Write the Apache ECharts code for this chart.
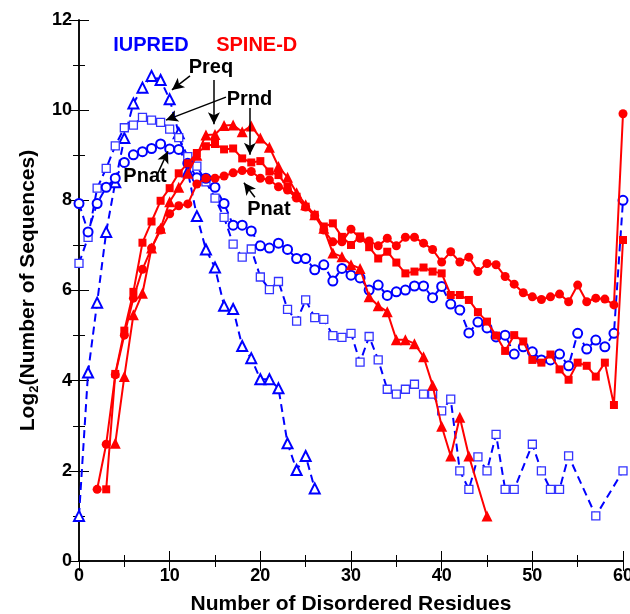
<!DOCTYPE html>
<html>
<head>
<meta charset="utf-8">
<script src="https://cdn.jsdelivr.net/npm/echarts@6/dist/echarts.min.js"></script>
<style>
  html, body { margin: 0; padding: 0; background: #fff; }
  #chart { width: 630px; height: 614px; }
</style>
</head>
<body>
<div id="chart"></div>
<script>
// x positions (number of disordered residues) and log2 counts per series
const iupredPreqX = [0, 1, 2, 3, 4, 5, 6, 7, 8, 9, 10, 11, 12, 13, 14, 15, 16, 17, 18, 19, 20, 21, 22, 23, 24, 25, 26]
const iupredPreqY = [1.0, 4.18, 5.73, 7.3, 8.4, 9.38, 10.15, 10.5, 10.76, 10.67, 10.24, 9.49, 8.64, 7.65, 6.91, 6.51, 5.66, 5.59, 4.77, 4.5, 4.03, 4.03, 3.83, 2.61, 2.02, 2.33, 1.61]

const iupredPrndX = [0, 1, 2, 3, 4, 5, 6, 7, 8, 9, 10, 11, 12, 13, 14, 15, 16, 17, 18, 19, 20, 21, 22, 23, 24, 25, 26, 27, 28, 29, 30, 31, 32, 33, 34, 35, 36, 37, 38, 39, 40, 41, 42, 43, 44, 45, 46, 47, 48, 50, 51, 52, 53, 54, 57, 60]
const iupredPrndY = [6.6, 7.18, 8.27, 8.71, 9.21, 9.61, 9.67, 9.84, 9.78, 9.73, 9.58, 9.39, 8.97, 8.76, 8.41, 8.05, 7.62, 7.03, 6.74, 6.92, 6.3, 6.02, 6.2, 5.58, 5.32, 5.79, 5.4, 5.36, 5.0, 4.96, 5.05, 4.41, 4.98, 4.46, 3.81, 3.7, 3.81, 3.92, 3.7, 3.7, 3.33, 3.59, 2.0, 1.59, 2.31, 2.0, 2.81, 1.59, 1.59, 2.59, 2.0, 1.59, 1.59, 2.33, 1.0, 2.0]

const iupredPnatX = [0, 1, 2, 3, 4, 5, 6, 7, 8, 9, 10, 11, 12, 13, 14, 15, 16, 17, 18, 19, 20, 21, 22, 23, 24, 25, 26, 27, 28, 29, 30, 31, 32, 33, 34, 35, 36, 37, 38, 39, 40, 41, 42, 43, 44, 45, 46, 47, 48, 49, 50, 51, 52, 53, 54, 55, 56, 57, 58, 59, 60]
const iupredPnatY = [7.93, 7.3, 7.93, 8.29, 8.49, 8.84, 9.01, 9.08, 9.15, 9.25, 9.14, 9.13, 8.82, 8.5, 8.49, 8.29, 7.93, 7.45, 7.45, 7.32, 6.99, 6.94, 7.05, 6.91, 6.71, 6.71, 6.46, 6.57, 6.21, 6.49, 6.34, 6.28, 6.01, 6.12, 5.89, 5.97, 6.01, 6.1, 6.1, 5.84, 6.09, 5.7, 5.57, 5.06, 5.3, 5.17, 4.97, 5.01, 4.59, 4.75, 4.64, 4.46, 4.46, 4.59, 4.33, 5.05, 4.7, 4.9, 4.75, 5.05, 8.0]

const spinePreqX = [4, 5, 6, 7, 8, 9, 10, 11, 12, 13, 14, 15, 16, 17, 18, 19, 20, 21, 22, 23, 24, 25, 26, 27, 28, 29, 30, 31, 32, 33, 34, 35, 36, 37, 38, 39, 40, 41, 42, 43, 45]
const spinePreqY = [2.61, 4.09, 5.46, 5.94, 6.94, 7.38, 7.97, 8.29, 8.6, 9.0, 9.45, 9.46, 9.66, 9.67, 9.52, 9.65, 9.38, 9.18, 8.75, 8.51, 8.17, 7.9, 7.68, 7.38, 6.83, 6.75, 6.57, 6.49, 5.86, 5.66, 5.53, 4.91, 4.91, 4.82, 4.53, 3.9, 2.99, 2.33, 3.19, 2.33, 1.0]

const spinePrndX = [3, 4, 5, 6, 7, 8, 9, 10, 11, 12, 13, 14, 15, 16, 17, 18, 19, 20, 21, 22, 23, 24, 25, 26, 27, 28, 29, 30, 31, 32, 33, 34, 35, 36, 37, 38, 39, 40, 41, 42, 43, 44, 45, 46, 47, 48, 49, 50, 51, 52, 53, 54, 55, 56, 57, 58, 59, 60]
const spinePrndY = [1.59, 4.15, 5.11, 5.97, 7.06, 7.53, 7.99, 8.27, 8.6, 8.82, 9.05, 9.2, 9.25, 9.13, 9.15, 8.93, 8.84, 8.87, 8.64, 8.56, 8.3, 8.08, 7.86, 7.68, 7.42, 7.49, 7.19, 7.01, 7.2, 6.96, 6.71, 6.86, 6.62, 6.38, 6.42, 6.51, 6.42, 6.38, 5.9, 5.9, 5.79, 5.52, 5.31, 5.0, 4.66, 5.01, 4.87, 4.46, 4.4, 4.58, 4.25, 4.02, 4.4, 4.33, 4.09, 4.4, 3.46, 7.12]

const spinePnatX = [2, 3, 4, 5, 6, 7, 8, 9, 10, 11, 12, 13, 14, 15, 16, 17, 18, 19, 20, 21, 22, 23, 24, 25, 26, 27, 28, 29, 30, 31, 32, 33, 34, 35, 36, 37, 38, 39, 40, 41, 42, 43, 44, 45, 46, 47, 48, 49, 50, 51, 52, 53, 54, 55, 56, 57, 58, 59, 60]
const spinePnatY = [1.59, 2.59, 4.13, 5.01, 5.83, 6.47, 6.94, 7.34, 7.7, 7.88, 7.92, 8.36, 8.49, 8.49, 8.54, 8.61, 8.66, 8.64, 8.49, 8.45, 8.3, 8.23, 8.05, 7.85, 7.66, 7.34, 7.08, 7.08, 7.36, 7.16, 7.1, 6.99, 7.16, 6.99, 7.18, 7.18, 7.05, 6.91, 6.63, 6.86, 6.63, 6.74, 6.42, 6.6, 6.57, 6.31, 6.14, 5.95, 5.86, 5.8, 5.86, 5.92, 5.75, 6.12, 5.75, 5.83, 5.81, 5.68, 9.92]

// annotation labels [text, x, y] and arrows [x1, y1, x2, y2] in data units
const groupLabels = [['IUPRED', 7.94, 11.44, '#0000ff'], ['SPINE-D', 19.6, 11.44, '#ff0000']]
const noteLabels = [['Preq', 14.55, 10.94], ['Prnd', 18.8, 10.23], ['Pnat', 7.28, 8.54], ['Pnat', 20.95, 7.79]]
const noteArrows = [
  [12.24, 10.76, 10.25, 10.45],
  [14.88, 10.67, 14.88, 9.69],
  [16.21, 10.29, 9.59, 9.78],
  [18.85, 10.05, 18.85, 9.01],
  [8.6, 8.56, 9.81, 9.09],
  [19.4, 8.07, 18.19, 8.39]
]

const FONT = 'Liberation Sans, Arial, Helvetica, sans-serif'
const zip = (xs, ys) => xs.map((x, i) => [x, ys[i]])

const chart = echarts.init(document.getElementById('chart'))

function blueSeries(name, xs, ys, symbol, size, width, color) {
  return {
    name: name,
    type: 'line',
    data: zip(xs, ys),
    symbol: symbol,
    symbolSize: size,
    showAllSymbol: true,
    z: 2,
    lineStyle: { color: '#0000ff', width: 2, type: [8, 5] },
    itemStyle: { color: '#fff', borderColor: color, borderWidth: width },
    animation: false
  }
}

function redSeries(name, xs, ys, symbol, size) {
  return {
    name: name,
    type: 'line',
    data: zip(xs, ys),
    symbol: symbol,
    symbolSize: size,
    showAllSymbol: true,
    z: 3,
    lineStyle: { color: '#ff0000', width: 2 },
    itemStyle: { color: '#ff0000', borderWidth: 0 },
    animation: false
  }
}

const axisLine = { show: true, lineStyle: { color: '#000', width: 1.5 } }

chart.setOption({
  backgroundColor: '#fff',
  animation: false,
  grid: { left: 79, right: 7, top: 20, bottom: 53, containLabel: false, outerBoundsMode: 'none' },
  xAxis: [{
    type: 'value',
    min: 0, max: 60, interval: 10,
    axisLine: axisLine,
    axisTick: { inside: true, length: 10, lineStyle: { color: '#000' } },
    minorTick: { show: true, splitNumber: 2, length: 6, lineStyle: { color: '#000' } },
    splitLine: { show: false },
    axisLabel: { color: '#000', fontSize: 18, fontWeight: 'bold', fontFamily: FONT, margin: 6 },
    name: 'Number of Disordered Residues',
    nameLocation: 'middle',
    nameGap: 33,
    nameTextStyle: { color: '#000', fontSize: 21, fontWeight: 'bold', fontFamily: FONT }
  }, {
    type: 'value', position: 'top',
    min: 0, max: 60, interval: 10,
    axisLine: axisLine,
    axisTick: { inside: true, length: 10, lineStyle: { color: '#000' } },
    minorTick: { show: true, splitNumber: 2, length: 6, lineStyle: { color: '#000' } },
    splitLine: { show: false },
    axisLabel: { show: false }
  }],
  yAxis: [{
    type: 'value',
    min: 0, max: 12, interval: 2,
    axisLine: axisLine,
    axisTick: { inside: true, length: 10, lineStyle: { color: '#000' } },
    minorTick: { show: true, splitNumber: 2, length: 6, lineStyle: { color: '#000' } },
    splitLine: { show: false },
    axisLabel: { color: '#000', fontSize: 18, fontWeight: 'bold', fontFamily: FONT, margin: 7 },
    name: '{a|Log}{b|2}{a|(Number of Sequences)}',
    nameLocation: 'middle',
    nameGap: 35,
    nameTextStyle: {
      rich: {
        a: { color: '#000', fontSize: 21, fontWeight: 'bold', fontFamily: FONT, lineHeight: 26 },
        b: { color: '#000', fontSize: 13, fontWeight: 'bold', fontFamily: FONT, verticalAlign: 'bottom', lineHeight: 16, padding: [10, 0, 0, 0] }
      }
    }
  }, {
    type: 'value', position: 'right',
    min: 0, max: 12, interval: 2,
    axisLine: axisLine,
    axisTick: { inside: true, length: 10, lineStyle: { color: '#000' } },
    minorTick: { show: true, splitNumber: 2, length: 6, lineStyle: { color: '#000' } },
    splitLine: { show: false },
    axisLabel: { show: false }
  }],
  series: [
    blueSeries('IUPRED Preq', iupredPreqX, iupredPreqY, 'triangle', 10, 2, '#0000ff'),
    blueSeries('IUPRED Prnd', iupredPrndX, iupredPrndY, 'rect', 8, 1.3, '#3333ff'),
    blueSeries('IUPRED Pnat', iupredPnatX, iupredPnatY, 'circle', 9, 2, '#0000ff'),
    redSeries('SPINE-D Preq', spinePreqX, spinePreqY, 'triangle', 11),
    redSeries('SPINE-D Prnd', spinePrndX, spinePrndY, 'rect', 8),
    redSeries('SPINE-D Pnat', spinePnatX, spinePnatY, 'circle', 9),
    {
      name: 'arrows',
      type: 'line',
      data: [],
      z: 5,
      markLine: {
        silent: true,
        animation: false,
        symbol: ['none', 'arrow'],
        symbolSize: [9, 12],
        label: { show: false },
        lineStyle: { color: '#000', width: 1.5, type: 'solid' },
        data: noteArrows.map(a => [{ coord: [a[0], a[1]] }, { coord: [a[2], a[3]] }])
      }
    }
  ]
})

const texts = []
groupLabels.forEach(l => {
  const p = chart.convertToPixel({ gridIndex: 0 }, [l[1], l[2]])
  texts.push({
    type: 'text', x: p[0], y: p[1], z: 10,
    style: { text: l[0], fill: l[3], font: 'bold 20px ' + FONT, align: 'center', verticalAlign: 'middle' }
  })
})
noteLabels.forEach(l => {
  const p = chart.convertToPixel({ gridIndex: 0 }, [l[1], l[2]])
  texts.push({
    type: 'text', x: p[0], y: p[1], z: 10,
    style: { text: l[0], fill: '#000', font: 'bold 20px ' + FONT, align: 'center', verticalAlign: 'middle' }
  })
})
chart.setOption({ graphic: texts })
</script>
</body>
</html>
